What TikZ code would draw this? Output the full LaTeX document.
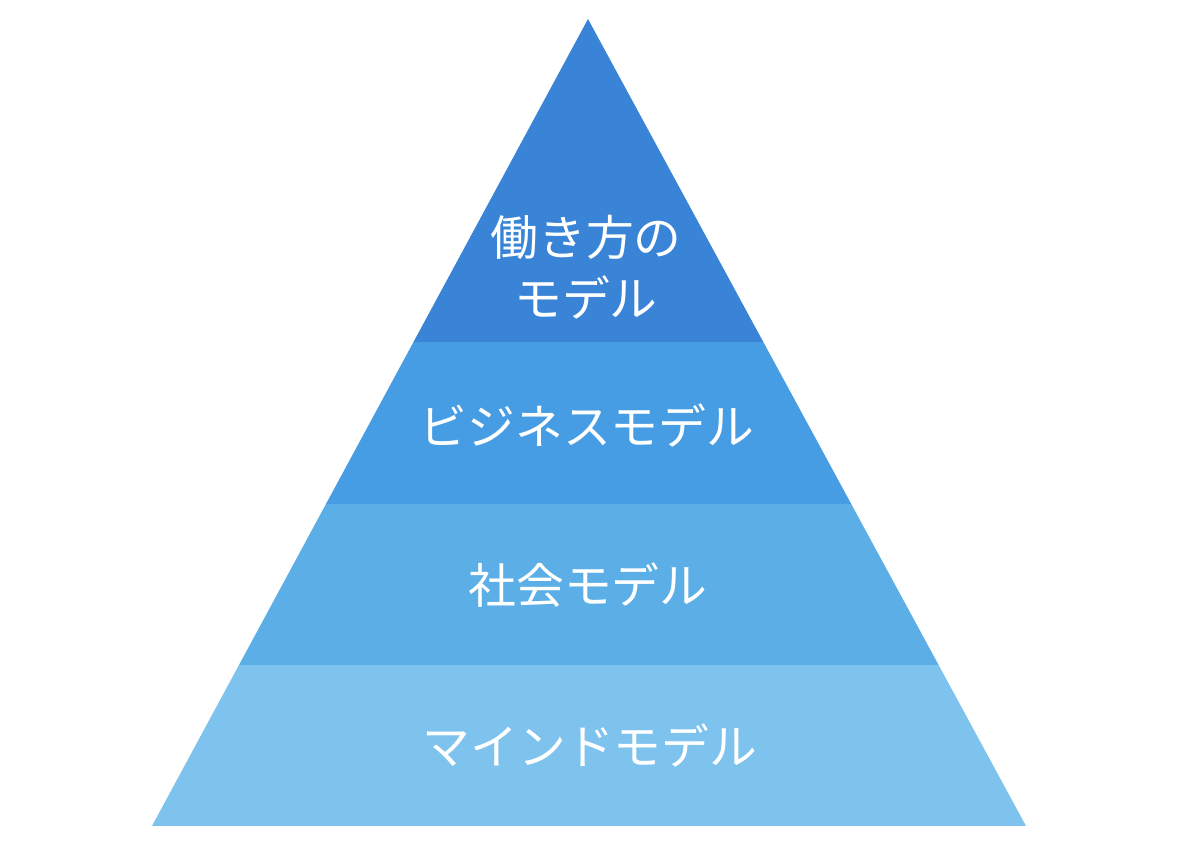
\documentclass[tikz,border=0pt]{standalone}
\usepackage{fontspec}
\newfontfamily\jpfont{Noto Sans CJK JP}
\definecolor{tierwork}{HTML}{3A84D7}
\definecolor{tierbiz}{HTML}{479DE3}
\definecolor{tiersoc}{HTML}{5BAEE6}
\definecolor{tiermind}{HTML}{7EC2EE}
\begin{document}
\begin{tikzpicture}[
    x=0.025cm, y=-0.025cm,
    every node/.style={font=\jpfont\fontsize{34}{43}\selectfont},
    tierlabel/.style={text=white, align=center, inner sep=0pt}
]
\useasboundingbox (0,0) rectangle (1180,846);
\coordinate (apex)  at (588,19);
\coordinate (baseL) at (152,826);
\coordinate (baseR) at (1026,826);

% pyramid bands
\begin{scope}
  \clip (apex) -- (baseL) -- (baseR) -- cycle;
  \fill[tierwork] (0,0)   rectangle (1180,342);
  \fill[tierbiz]  (0,342) rectangle (1180,504);
  \fill[tiersoc]  (0,504) rectangle (1180,665);
  \fill[tiermind] (0,665) rectangle (1180,826);
\end{scope}

\node (work) [tierlabel] at (586,267) {働き方の\\モデル};
\node (biz)  [tierlabel] at (587,425) {ビジネスモデル};
\node (soc)  [tierlabel] at (588,585) {社会モデル};
\node (mind) [tierlabel] at (590,745) {マインドモデル};
\end{tikzpicture}
\end{document}
